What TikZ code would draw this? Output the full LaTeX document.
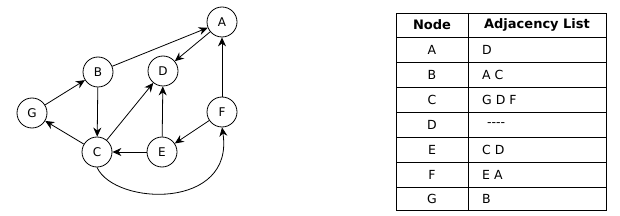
\documentclass[tikz,border=0pt]{standalone}
\usepackage{fontspec}
\setmainfont{DejaVu Sans}
\usetikzlibrary{arrows.meta}
\begin{document}
\begin{tikzpicture}[x=1pt,y=-1pt,
  vert/.style={circle,draw,line width=0.8pt,minimum size=30pt,inner sep=0pt,font=\fontsize{12}{14}\selectfont},
  edge/.style={line width=0.8pt,-{Stealth[length=9pt,width=8pt]}},
  cell/.style={inner sep=0pt,font=\fontsize{12.5}{14}\selectfont},
  head/.style={inner sep=0pt,font=\fontsize{13}{15}\selectfont\bfseries},
  grid/.style={line width=0.8pt}]
\useasboundingbox (0,0) rectangle (620,216);
% vertices
\node[vert] (A) at (222,22) {A};
\node[vert] (B) at (98,72) {B};
\node[vert] (D) at (163,71) {D};
\node[vert] (G) at (32,113) {G};
\node[vert] (F) at (222,112) {F};
\node[vert] (C) at (97,152) {C};
\node[vert] (E) at (162,152) {E};
% edges
\draw[edge] (B) -- (A);
\draw[edge] (A) -- (D);
\draw[edge] (B) -- (C);
\draw[edge] (G) -- (B);
\draw[edge] (C) -- (G);
\draw[edge] (C) -- (D);
\draw[edge] (E) -- (D);
\draw[edge] (E) -- (C);
\draw[edge] (F) -- (E);
\draw[edge] (F) -- (A);
\draw[edge] (C.south) .. controls (115,206) and (235,210) .. (F.south);
% table
\draw[grid] (396,13) rectangle (606,210);
\draw[grid] (468,13) -- (468,210);
\foreach \y in {37,62,87,112,137,162,187} \draw[grid] (396,\y) -- (606,\y);
\node[head] (h1) at (432,25) {Node};
\node[head] (h2) at (537,25) {Adjacency List};
\node[cell] (n1) at (432,50) {A};
\node[cell] (n2) at (432,75) {B};
\node[cell] (n3) at (432,100) {C};
\node[cell] (n4) at (432,125) {D};
\node[cell] (n5) at (432,150) {E};
\node[cell] (n6) at (432,175) {F};
\node[cell] (n7) at (432,199) {G};
\node[cell,anchor=west] (l1) at (482,50) {D};
\node[cell,anchor=west] (l2) at (482,75) {A C};
\node[cell,anchor=west] (l3) at (482,100) {G D F};
\node[cell,anchor=west] (l4) at (487,125) {{-}{-}{-}{-}};
\node[cell,anchor=west] (l5) at (482,150) {C D};
\node[cell,anchor=west] (l6) at (482,175) {E A};
\node[cell,anchor=west] (l7) at (482,199) {B};
\end{tikzpicture}
\end{document}
